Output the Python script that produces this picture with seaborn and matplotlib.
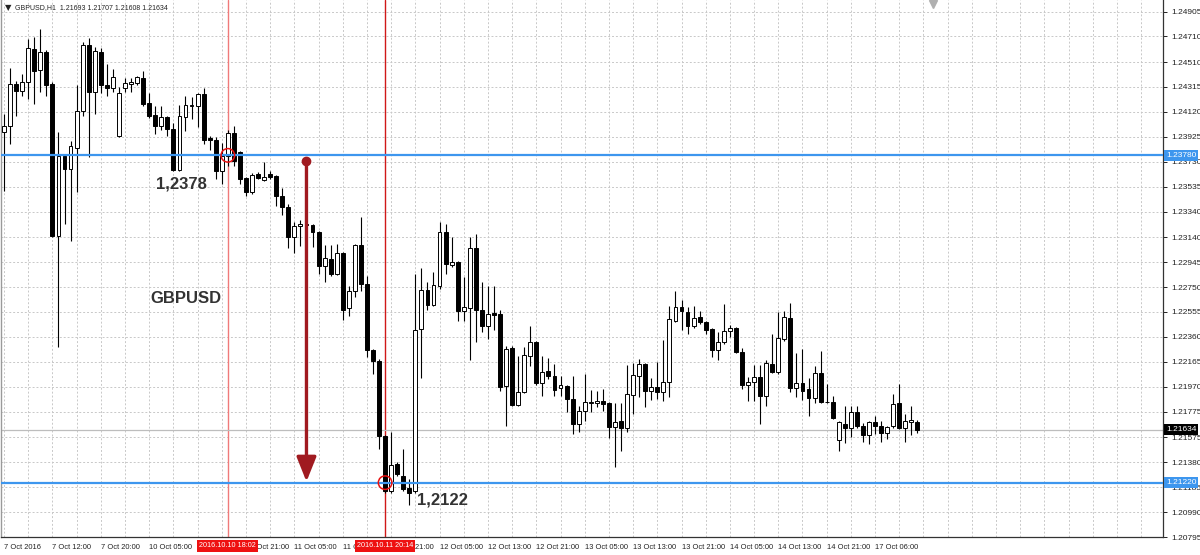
import matplotlib
matplotlib.use("Agg")
import matplotlib.pyplot as plt
from matplotlib import font_manager
import seaborn as sns
import numpy as np
import pandas as pd

# ---------------- data (GBPUSD, H1) ----------------
opens = [
    1.23960, 1.24007, 1.24335, 1.24280, 1.24351, 1.24608, 1.24444, 1.24585, 1.24335, 1.23147,
    1.23772, 1.23671, 1.23835, 1.24124, 1.24640, 1.24272, 1.24585, 1.24327, 1.24304, 1.23929,
    1.24304, 1.24335, 1.24343, 1.24382, 1.24187, 1.24093, 1.24007, 1.24077, 1.23983, 1.23663,
    1.24077, 1.24163, 1.24163, 1.24257, 1.23913, 1.23897, 1.23655, 1.23772, 1.23952, 1.23804,
    1.23601, 1.23491, 1.23632, 1.23585, 1.23632, 1.23616, 1.23460, 1.23374, 1.23140, 1.23226,
    1.23241, 1.23233, 1.23179, 1.22913, 1.22968, 1.22851, 1.23015, 1.22585, 1.22718, 1.23077,
    1.22773, 1.22257, 1.22171, 1.21585, 1.21155, 1.21366, 1.21273, 1.21179, 1.21155, 1.22421,
    1.22726, 1.22608, 1.22757, 1.23179, 1.22921, 1.22944, 1.22562, 1.22585, 1.23054, 1.22569,
    1.22444, 1.22546, 1.22538, 1.21976, 1.22273, 1.21827, 1.21929, 1.22210, 1.22319, 1.21999,
    1.22093, 1.22054, 1.21960, 1.21976, 1.21874, 1.21679, 1.21780, 1.21843, 1.21843, 1.21858,
    1.21843, 1.21655, 1.21702, 1.21647, 1.21905, 1.22054, 1.22147, 1.21937, 1.21968, 1.21929,
    1.22007, 1.22483, 1.22593, 1.22554, 1.22444, 1.22515, 1.22476, 1.22421, 1.22257, 1.22319,
    1.22405, 1.22429, 1.22241, 1.21983, 1.22007, 1.22046, 1.21897, 1.22147, 1.22085, 1.22343,
    1.22507, 1.21960, 1.21999, 1.21952, 1.21882, 1.22077, 1.21851, 1.21851, 1.21554, 1.21679,
    1.21647, 1.21772, 1.21663, 1.21593, 1.21694, 1.21663, 1.21608, 1.21663, 1.21843, 1.21647,
    1.21694, 1.21693,
]
highs = [
    1.24101, 1.24460, 1.24358, 1.24413, 1.24687, 1.24702, 1.24772, 1.24601, 1.24351, 1.23960,
    1.23788, 1.23890, 1.24327, 1.24663, 1.24694, 1.24624, 1.24616, 1.24491, 1.24452, 1.24312,
    1.24382, 1.24382, 1.24397, 1.24437, 1.24265, 1.24163, 1.24163, 1.24085, 1.24030, 1.24171,
    1.24241, 1.24233, 1.24265, 1.24304, 1.23929, 1.23921, 1.23874, 1.23976, 1.24007, 1.23812,
    1.23608, 1.23640, 1.23647, 1.23726, 1.23655, 1.23624, 1.23522, 1.23397, 1.23257, 1.23272,
    1.23257, 1.23241, 1.23187, 1.23077, 1.23077, 1.23085, 1.23022, 1.22757, 1.23085, 1.23296,
    1.22835, 1.22265, 1.22187, 1.21593, 1.21616, 1.21382, 1.21483, 1.21249, 1.22851, 1.22897,
    1.22788, 1.22866, 1.23257, 1.23241, 1.23140, 1.22952, 1.22827, 1.23140, 1.23163, 1.22788,
    1.22757, 1.22757, 1.22569, 1.22288, 1.22288, 1.22210, 1.22280, 1.22444, 1.22327, 1.22210,
    1.22194, 1.22147, 1.22054, 1.21983, 1.22054, 1.21819, 1.22069, 1.21944, 1.21937, 1.21952,
    1.21851, 1.21843, 1.21843, 1.22140, 1.22155, 1.22187, 1.22155, 1.22038, 1.22163, 1.22335,
    1.22601, 1.22718, 1.22647, 1.22593, 1.22601, 1.22562, 1.22483, 1.22429, 1.22397, 1.22616,
    1.22452, 1.22437, 1.22272, 1.22046, 1.22140, 1.22140, 1.22179, 1.22382, 1.22554, 1.22562,
    1.22624, 1.22233, 1.22265, 1.22038, 1.22132, 1.22249, 1.21991, 1.21897, 1.21702, 1.21819,
    1.21819, 1.21819, 1.21687, 1.21702, 1.21741, 1.21702, 1.21663, 1.21913, 1.21991, 1.21757,
    1.21819, 1.21707,
]
lows = [
    1.23499, 1.23866, 1.24085, 1.24241, 1.24218, 1.24179, 1.24272, 1.24241, 1.23140, 1.22280,
    1.23241, 1.23108, 1.23491, 1.24085, 1.23765, 1.24101, 1.24265, 1.24241, 1.24272, 1.23920,
    1.24272, 1.24272, 1.24327, 1.24163, 1.24069, 1.23944, 1.23976, 1.23929, 1.23655, 1.23655,
    1.23968, 1.24062, 1.23999, 1.23866, 1.23819, 1.23593, 1.23554, 1.23694, 1.23694, 1.23554,
    1.23460, 1.23476, 1.23593, 1.23577, 1.23593, 1.23382, 1.23312, 1.23054, 1.23015, 1.23069,
    1.23218, 1.23062, 1.22851, 1.22788, 1.22835, 1.22843, 1.22491, 1.22522, 1.22671, 1.22718,
    1.22202, 1.22069, 1.21483, 1.21140, 1.21140, 1.21273, 1.21155, 1.21046, 1.21140, 1.22038,
    1.22569, 1.22601, 1.22733, 1.22851, 1.22905, 1.22483, 1.22483, 1.22179, 1.22319, 1.22397,
    1.22343, 1.22413, 1.21937, 1.21663, 1.21819, 1.21819, 1.21921, 1.22132, 1.21983, 1.21897,
    1.22030, 1.21897, 1.21897, 1.21772, 1.21601, 1.21616, 1.21702, 1.21772, 1.21811, 1.21780,
    1.21569, 1.21343, 1.21468, 1.21616, 1.21757, 1.21890, 1.21811, 1.21866, 1.21874, 1.21858,
    1.21890, 1.22476, 1.22413, 1.22382, 1.22429, 1.22460, 1.22382, 1.22202, 1.22179, 1.22304,
    1.22358, 1.22233, 1.21952, 1.21858, 1.21858, 1.21679, 1.21819, 1.22077, 1.22069, 1.22327,
    1.21929, 1.21890, 1.21866, 1.21741, 1.21843, 1.21843, 1.21843, 1.21718, 1.21468, 1.21530,
    1.21577, 1.21647, 1.21538, 1.21522, 1.21601, 1.21538, 1.21561, 1.21647, 1.21640, 1.21538,
    1.21593, 1.21608,
]
closes = [
    1.24007, 1.24335, 1.24280, 1.24351, 1.24616, 1.24437, 1.24585, 1.24327, 1.23147, 1.23772,
    1.23671, 1.23851, 1.24124, 1.24640, 1.24272, 1.24593, 1.24327, 1.24304, 1.24390, 1.24265,
    1.24343, 1.24351, 1.24390, 1.24179, 1.24085, 1.24007, 1.24077, 1.23983, 1.23663, 1.24085,
    1.24171, 1.24171, 1.24257, 1.23897, 1.23897, 1.23655, 1.23772, 1.23952, 1.23733, 1.23593,
    1.23491, 1.23624, 1.23601, 1.23608, 1.23608, 1.23460, 1.23374, 1.23140, 1.23226, 1.23241,
    1.23233, 1.23179, 1.22913, 1.22976, 1.22851, 1.23015, 1.22569, 1.22718, 1.23077, 1.22773,
    1.22257, 1.22171, 1.21585, 1.21155, 1.21358, 1.21288, 1.21171, 1.21140, 1.22413, 1.22726,
    1.22608, 1.22765, 1.23179, 1.22929, 1.22944, 1.22562, 1.22593, 1.23054, 1.22569, 1.22444,
    1.22538, 1.22530, 1.21968, 1.22265, 1.21827, 1.21929, 1.22218, 1.22319, 1.21999, 1.22085,
    1.22054, 1.21944, 1.21983, 1.21874, 1.21679, 1.21780, 1.21851, 1.21851, 1.21858, 1.21835,
    1.21655, 1.21694, 1.21647, 1.21913, 1.22062, 1.22147, 1.21937, 1.21968, 1.21929, 1.22007,
    1.22499, 1.22593, 1.22562, 1.22444, 1.22507, 1.22476, 1.22413, 1.22257, 1.22319, 1.22405,
    1.22429, 1.22241, 1.21983, 1.22007, 1.22046, 1.21897, 1.22155, 1.22085, 1.22351, 1.22515,
    1.21960, 1.21999, 1.21937, 1.21882, 1.22077, 1.21851, 1.21847, 1.21726, 1.21694, 1.21647,
    1.21772, 1.21663, 1.21593, 1.21694, 1.21663, 1.21608, 1.21655, 1.21835, 1.21647, 1.21702,
    1.21710, 1.21634,
]

time_labels = ["7 Oct 2016", "7 Oct 12:00", "7 Oct 20:00", "10 Oct 05:00", "10 Oct 13:00",
               "10 Oct 21:00", "11 Oct 05:00", "11 Oct 13:00", "11 Oct 21:00", "12 Oct 05:00",
               "12 Oct 13:00", "12 Oct 21:00", "13 Oct 05:00", "13 Oct 13:00", "13 Oct 21:00",
               "14 Oct 05:00", "14 Oct 13:00", "14 Oct 21:00", "17 Oct 06:00"]
price_ticks = [1.24905, 1.24710, 1.24510, 1.24315, 1.24120, 1.23925, 1.23730, 1.23535,
               1.23340, 1.23140, 1.22945, 1.22750, 1.22555, 1.22360, 1.22165, 1.21970,
               1.21775, 1.21575, 1.21380, 1.21185, 1.20990, 1.20795]

level_high = 1.2378
level_low = 1.2122
last_price = 1.21634
event_bars = [37, 63]
event_labels = ["2016.10.10 18:02", "2016.10.11 20:14"]
circle_prices = [1.2378, 1.2122]
arrow_bar = 50
arrow_start = 1.23735
arrow_end = 1.21228
header = "GBPUSD,H1  1.21693 1.21707 1.21608 1.21634"

# ---------------- styling ----------------
sns.set_theme(style="white")
plt.rcParams["font.family"] = ["Liberation Sans", "DejaVu Sans"]

installed = {f.name for f in font_manager.fontManager.ttflist}
has_narrow = "Liberation Sans Narrow" in installed
small_family = "Liberation Sans Narrow" if has_narrow else "Liberation Sans"
axis_size = 6.3 if has_narrow else 5.4
box_size = 6.0 if has_narrow else 5.2
head_size = 5.9 if has_narrow else 5.0

df = pd.DataFrame({"o": opens, "h": highs, "l": lows, "c": closes})
df["x"] = np.arange(len(df))
df["bull"] = df["c"] >= df["o"]

fig = plt.figure(figsize=(12, 5.55), dpi=100)
fig.patch.set_facecolor("white")
ax = fig.add_axes([1 / 1200, 18 / 555, 1162 / 1200, 537 / 555])
ax.set_facecolor("white")
ax.set_xlim(-0.5, 191.6)
ax.set_ylim(1.20800, 1.24995)

# grid
for gx in range(0, 192, 4):
    ax.axvline(gx, color="#c8c8c8", lw=0.7, ls=(0, (2, 2)), zorder=0)
for gy in price_ticks:
    ax.axhline(gy, color="#c8c8c8", lw=0.7, ls=(0, (2, 2)), zorder=0)

# event vertical lines
ax.axvline(event_bars[0], color="#f07a7a", lw=1.0, zorder=1)
ax.axvline(event_bars[1], color="#d01818", lw=1.0, zorder=1)

# current price line
ax.axhline(last_price, color="#bdbdbd", lw=0.9, zorder=1)

# candles
ax.vlines(df["x"], df["l"], df["h"], color="black", lw=0.8, zorder=2)
body_bottom = np.minimum(df["o"], df["c"])
body_height = np.maximum(np.abs(df["c"] - df["o"]), 0.000008)
face = np.where(df["bull"], "white", "black")
ax.bar(df["x"], body_height, bottom=body_bottom, width=0.64, color=face,
       edgecolor="black", linewidth=0.7, zorder=3)

# horizontal levels
ax.axhline(level_high, color="#3d96ee", lw=1.6, zorder=4)
ax.axhline(level_low, color="#3d96ee", lw=1.6, zorder=4)

# circles
sns.scatterplot(x=event_bars, y=circle_prices, ax=ax, s=95, marker="o",
                facecolor="none", edgecolor="#e81010", linewidth=1.1, zorder=6,
                legend=False)

# arrow
arrow_col = "#a01a20"
ax.annotate("", xy=(arrow_bar, arrow_end), xytext=(arrow_bar, arrow_start),
            arrowprops=dict(arrowstyle="-|>,head_length=1.25,head_width=0.5",
                            color=arrow_col, lw=2.4, shrinkA=0, shrinkB=0),
            zorder=5)
ax.plot([arrow_bar], [arrow_start], marker="o", ms=6, color=arrow_col, zorder=6)

# annotations
ax.text(29.4, 1.23552, "1,2378", fontsize=12, fontweight="bold", color="#333333",
        ha="center", va="center", zorder=7)
ax.text(30.1, 1.22660, "GBPUSD", fontsize=12, fontweight="bold", color="#333333",
        ha="center", va="center", zorder=7)
ax.text(72.4, 1.21082, "1,2122", fontsize=12, fontweight="bold", color="#333333",
        ha="center", va="center", zorder=7)

# axes / ticks
ax.spines["top"].set_visible(False)
ax.spines["left"].set_color("#9a9a9a")
ax.spines["left"].set_linewidth(1.0)
ax.spines["right"].set_color("#333333")
ax.spines["right"].set_linewidth(0.9)
ax.spines["bottom"].set_color("#333333")
ax.spines["bottom"].set_linewidth(0.9)

ax.yaxis.tick_right()
ax.set_yticks(price_ticks)
ax.set_yticklabels([f"{p:.5f}" for p in price_ticks])
ax.tick_params(axis="y", direction="out", length=3, width=0.7, pad=3,
               labelsize=6, colors="#222222", left=False, right=True)

label_bars = list(range(0, 8 * len(time_labels), 8))
ax.set_xticks(label_bars)
ax.set_xticklabels(time_labels)
ax.tick_params(axis="x", direction="out", length=3, width=0.7, pad=2,
               labelsize=axis_size, colors="#222222")
for t in ax.get_xticklabels():
    t.set_horizontalalignment("left")
    t.set_fontfamily(small_family)
    t.set_fontsize(axis_size)

# highlighted price labels on the right axis
ytr = ax.get_yaxis_transform()
for p, fc in [(level_high, "#3d96ee"), (last_price, "#000000"), (level_low, "#3d96ee")]:
    ax.text(1.0025, p, f"{p:.5f}", transform=ytr, fontsize=6, color="white",
            ha="left", va="center", clip_on=False, zorder=10,
            bbox=dict(boxstyle="square,pad=0.25", fc=fc, ec="none"))

# highlighted time labels on the bottom axis
xtr = ax.get_xaxis_transform()
for b, lab in zip(event_bars, event_labels):
    ax.text(b, -0.0165, lab, transform=xtr, fontsize=box_size, color="white",
            family=small_family, ha="center", va="center", clip_on=False, zorder=10,
            bbox=dict(boxstyle="square,pad=0.3", fc="#ee1111", ec="none"))

# header + chart shift marker
fig.text(5 / 1200, 1 - 8 / 555, "\u25bc", fontsize=6, color="#222222", va="center",
         family=["DejaVu Sans"])
fig.text(15 / 1200, 1 - 8 / 555, header, fontsize=head_size, color="#222222",
         va="center", family=small_family)
ax.plot([153.6], [0.993], marker="v", ms=6, color="#b0b0b0", transform=xtr,
        clip_on=False, zorder=8)

fig.savefig("out.png", dpi=100, facecolor="white")
